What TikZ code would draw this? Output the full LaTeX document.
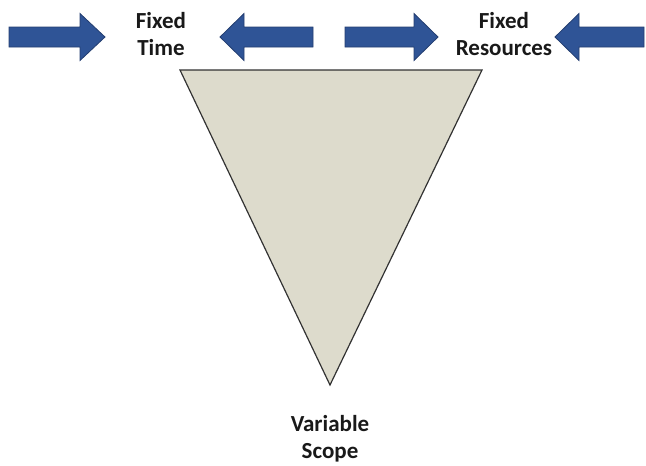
\documentclass[tikz,border=0pt]{standalone}
\usepackage{fontspec}
\setmainfont{Carlito}
\definecolor{arrowblue}{RGB}{47,84,150}
\definecolor{arrowedge}{RGB}{36,62,112}
\definecolor{scopefill}{RGB}{221,219,204}
\definecolor{edgegray}{RGB}{50,50,50}
\begin{document}
\begin{tikzpicture}[x=1pt,y=-1pt,
  blockarrow/.style={fill=arrowblue,draw=arrowedge,line width=0.8pt,line join=miter},
  label/.style={font=\fontsize{23}{27}\selectfont\bfseries,text=black!90,align=center,inner sep=0pt},
  scope shape/.style={fill=scopefill,draw=edgegray,line width=1.2pt,line join=miter}]
  \useasboundingbox (0,0) rectangle (646,466);
  % pressure arrows on the time side
  \path[blockarrow] (9,27) -- (80,27) -- (80,13.5) -- (105,37) -- (80,60.5) -- (80,47) -- (9,47) -- cycle;
  \path[blockarrow] (313,27) -- (244,27) -- (244,13.5) -- (220,37) -- (244,60.5) -- (244,47) -- (313,47) -- cycle;
  % pressure arrows on the resources side
  \path[blockarrow] (345,27) -- (414,27) -- (414,13.5) -- (438,37) -- (414,60.5) -- (414,47) -- (345,47) -- cycle;
  \path[blockarrow] (644,27) -- (579,27) -- (579,13.5) -- (555,37) -- (579,60.5) -- (579,47) -- (644,47) -- cycle;
  % inverted triangle of scope
  \path[scope shape] (180,70) -- (482,70) -- (330,385) -- cycle;
  % labels
  \node[label] (time) at (161,34) {Fixed\\Time};
  \node[label] (res) at (504,34) {Fixed\\Resources};
  \node[label] (scope) at (330,439) {Variable\\Scope};
\end{tikzpicture}
\end{document}
